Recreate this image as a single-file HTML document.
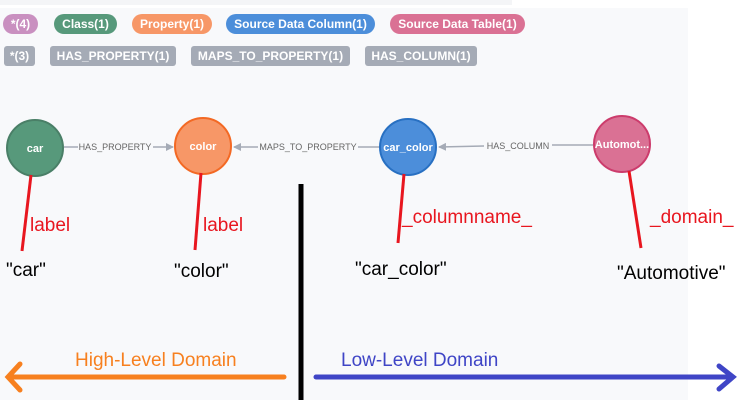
<!DOCTYPE html>
<html><head><meta charset="utf-8">
<style>
html,body{margin:0;padding:0;background:#fff;}
svg{display:block;font-family:"Liberation Sans",Arial,sans-serif;}
.chip{font-size:12px;fill:#fff;font-weight:bold;}
</style></head><body>
<svg width="756" height="400" viewBox="0 0 756 400">
<defs>
<marker id="ag" markerWidth="8" markerHeight="8" refX="7" refY="4" orient="auto" markerUnits="userSpaceOnUse"><path d="M0,0 L8,4 L0,8 z" fill="#a5abb6"/></marker>
</defs>
<rect x="0" y="0" width="512" height="5" fill="#f4f5f7"/>
<rect x="0" y="8" width="688" height="392" fill="#f8f9fb"/>
<!-- top chips -->
<rect x="3" y="14" width="35" height="20" rx="10" fill="#c990c0"/><text x="20.5" y="28" class="chip" text-anchor="middle">*(4)</text>
<rect x="54" y="14" width="63" height="20" rx="10" fill="#57997b"/><text x="85.5" y="28" class="chip" text-anchor="middle">Class(1)</text>
<rect x="132" y="14" width="80" height="20" rx="10" fill="#f79767"/><text x="172" y="28" class="chip" text-anchor="middle">Property(1)</text>
<rect x="226" y="14" width="149" height="20" rx="10" fill="#4c8eda"/><text x="300.5" y="28" class="chip" text-anchor="middle">Source Data Column(1)</text>
<rect x="390" y="14" width="135" height="20" rx="10" fill="#da7194"/><text x="457.5" y="28" class="chip" text-anchor="middle">Source Data Table(1)</text>
<!-- second row -->
<rect x="4" y="46" width="31" height="20" rx="3" fill="#a5abb6"/><text x="19.5" y="60" class="chip" text-anchor="middle">*(3)</text>
<rect x="50" y="46" width="126" height="20" rx="3" fill="#a5abb6"/><text x="113" y="60" class="chip" text-anchor="middle">HAS_PROPERTY(1)</text>
<rect x="191" y="46" width="159" height="20" rx="3" fill="#a5abb6"/><text x="270.5" y="60" class="chip" text-anchor="middle">MAPS_TO_PROPERTY(1)</text>
<rect x="365" y="46" width="112" height="20" rx="3" fill="#a5abb6"/><text x="421" y="60" class="chip" text-anchor="middle">HAS_COLUMN(1)</text>
<!-- edges -->
<g stroke="#a5abb6" stroke-width="1.5" fill="none">
<line x1="64" y1="147" x2="78" y2="147"/><line x1="153" y1="147" x2="173" y2="147" marker-end="url(#ag)"/>
<line x1="380" y1="147" x2="358" y2="147"/><line x1="258" y1="147" x2="234" y2="147" marker-end="url(#ag)"/>
<line x1="593" y1="145" x2="552" y2="145"/><line x1="484" y1="146" x2="439" y2="147" marker-end="url(#ag)"/>
</g>
<g font-size="9" fill="#666">
<text x="115" y="150" text-anchor="middle">HAS_PROPERTY</text>
<text x="308" y="150" text-anchor="middle">MAPS_TO_PROPERTY</text>
<text x="518" y="149" text-anchor="middle">HAS_COLUMN</text>
</g>
<!-- nodes -->
<circle cx="35" cy="148" r="28" fill="#57997b" stroke="#4a7f67" stroke-width="2"/>
<circle cx="203" cy="146" r="28" fill="#f79767" stroke="#f36924" stroke-width="2"/>
<circle cx="408" cy="147" r="28" fill="#4c8eda" stroke="#2870c2" stroke-width="2"/>
<circle cx="622" cy="144" r="28" fill="#da7194" stroke="#cc3c6c" stroke-width="2"/>
<g font-size="11" fill="#fff" text-anchor="middle" font-weight="bold">
<text x="35" y="152">car</text><text x="203" y="150">color</text><text x="408" y="151">car_color</text><text x="622" y="148">Automot...</text>
</g>
<!-- red lines -->
<g stroke="#e8161f" stroke-width="3" fill="none">
<line x1="31" y1="175" x2="22" y2="251"/>
<line x1="201" y1="173" x2="195" y2="250"/>
<line x1="404" y1="174" x2="398" y2="243"/>
<line x1="629" y1="171" x2="641" y2="248"/>
</g>
<g fill="#e8161f" font-size="19">
<text x="30" y="231">label</text>
<text x="203" y="231">label</text>
<text x="402" y="223">_columnname_</text>
<text x="650" y="223">_domain_</text>
</g>
<g fill="#000" font-size="19">
<text x="6" y="276">"car"</text>
<text x="174" y="277">"color"</text>
<text x="355" y="275">"car_color"</text>
<text x="617" y="279">"Automotive"</text>
</g>
<!-- divider -->
<line x1="301" y1="184" x2="301" y2="400" stroke="#000" stroke-width="5"/>
<!-- arrows -->
<g stroke="#f7801f" stroke-width="5" stroke-linecap="round" fill="none">
<line x1="9" y1="377" x2="284" y2="377"/><polyline points="20,364 8,377 20,390"/>
</g>
<g stroke="#3f45c6" stroke-width="5" stroke-linecap="round" fill="none">
<line x1="316" y1="377" x2="732" y2="377"/><polyline points="719,366 733,377 719,389"/>
</g>
<text x="75" y="366" fill="#f7801f" font-size="19">High-Level Domain</text>
<text x="341" y="366" fill="#3f45c6" font-size="19">Low-Level Domain</text>
</svg>
</body></html>
